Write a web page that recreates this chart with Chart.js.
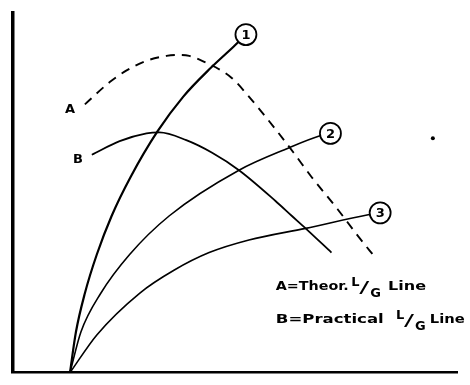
<!DOCTYPE html>
<html lang="en">
<head>
<meta charset="utf-8">
<script src="https://cdn.jsdelivr.net/npm/chart.js"></script>
<style>
  html, body { margin: 0; padding: 0; background: #fff; }
</style>
</head>
<body>
<canvas id="sketch" width="470" height="385"></canvas>
<script>
// values: x to the right, y upwards from the corner of the axes
const curve1X = [58, 64, 73, 85, 100, 119, 146, 172, 200, 223, 235];
const curve1Y = [0, 42, 82, 122, 162, 202, 249, 285, 315, 337, 349];
const curve2X = [58, 69, 89, 118, 158, 228, 278, 308, 320];
const curve2Y = [0, 42, 82, 122, 162, 209, 232, 244, 247];
const curve3X = [58, 85, 128, 163, 198, 238, 295, 358, 370];
const curve3Y = [0, 39, 82, 106, 124, 137, 149, 163, 165];
const lineAX = [73, 98, 115, 135, 155, 166, 178, 195, 205, 221, 238, 265, 283, 301, 327, 347, 365];
const lineAY = [277, 300, 312, 322, 327, 328, 327, 320, 315, 304, 285, 251, 227, 202, 169, 142, 119];
const lineBX = [80, 108, 135, 148, 175, 201, 228, 265, 281, 295, 321];
const lineBY = [225, 239, 247, 248, 240, 227, 209, 177, 162, 149, 124];

// numbered circles at the ends of curves 1-3
const circleNames = ['1', '2', '3'];
const circleX = [235, 320, 370];
const circleY = [349, 247, 165];

// letters beside the L/G lines
const curveNames = ['A', 'B'];
const curveNameX = [58, 66];
const curveNameY = [272, 220];

// stray dot on the right
const dotX = [423];
const dotY = [242];

// key text
const keyLead = ['A=Theor.', 'B=Practical'];
const keyTail = ['Line', 'Line'];
const keyX = [265, 265];
const keyY = [85, 51];
const keyLeadW = [73, 108];
const keyFracX = [341, 386];
const keyTailX = [378, 420];
const keyTailW = [38, 35];

const pts = (xs, ys) => xs.map((v, i) => ({ x: v, y: ys[i] }));

const curve = (xs, ys, width, dash) => ({
    data: pts(xs, ys),
    showLine: true,
    borderColor: '#000',
    borderWidth: width,
    borderDash: dash || [],
    pointRadius: 0,
    cubicInterpolationMode: 'monotone',
    fill: false
});

// the lettering on the sketch is wide, so stretch text to the width it spans
function stretchText(ctx, text, x, y, width) {
    const natural = ctx.measureText(text).width;
    ctx.save();
    ctx.translate(x, y);
    ctx.scale(width / natural, 1);
    ctx.fillText(text, 0, 0);
    ctx.restore();
}

const sketchLabels = {
    id: 'sketchLabels',
    afterDatasetsDraw(chart) {
        const { ctx } = chart;
        const sx = chart.scales.x, sy = chart.scales.y;
        ctx.save();
        ctx.fillStyle = '#000';

        ctx.textAlign = 'center';
        ctx.textBaseline = 'middle';
        ctx.font = 'bold 13px "DejaVu Sans"';
        circleNames.forEach((t, i) => {
            ctx.fillText(t, sx.getPixelForValue(circleX[i]), sy.getPixelForValue(circleY[i]) + 1);
        });
        curveNames.forEach((t, i) => {
            ctx.fillText(t, sx.getPixelForValue(curveNameX[i]), sy.getPixelForValue(curveNameY[i]));
        });

        ctx.textAlign = 'left';
        ctx.textBaseline = 'alphabetic';
        keyLead.forEach((t, i) => {
            const py = sy.getPixelForValue(keyY[i]);
            ctx.font = 'bold 13px "DejaVu Sans"';
            stretchText(ctx, t, sx.getPixelForValue(keyX[i]), py, keyLeadW[i]);

            // L/G written as a slanted fraction
            const px = sx.getPixelForValue(keyFracX[i]);
            ctx.fillText('L', px, py - 4);
            ctx.font = '16px "DejaVu Sans"';
            stretchText(ctx, '/', px + 8, py + 3, 10);
            ctx.font = 'bold 13px "DejaVu Sans"';
            ctx.fillText('G', px + 19, py + 7);

            stretchText(ctx, keyTail[i], sx.getPixelForValue(keyTailX[i]), py, keyTailW[i]);
        });
        ctx.restore();
    }
};

new Chart(document.getElementById('sketch'), {
    type: 'scatter',
    data: {
        datasets: [
            {
                // circles go first so they sit on top of the curve ends
                data: pts(circleX, circleY),
                pointRadius: 10.5,
                pointBackgroundColor: '#fff',
                pointBorderColor: '#000',
                pointBorderWidth: 1.8,
                showLine: false
            },
            {
                data: pts(dotX, dotY),
                pointRadius: 2,
                pointBackgroundColor: '#000',
                pointBorderWidth: 0,
                showLine: false
            },
            curve(curve1X, curve1Y, 2.2),
            curve(curve2X, curve2Y, 1.6),
            curve(curve3X, curve3Y, 1.6),
            curve(lineAX, lineAY, 1.9, [9, 7]),
            curve(lineBX, lineBY, 1.8)
        ]
    },
    options: {
        responsive: false,
        animation: false,
        events: [],
        layout: { padding: { left: 12, top: 10, right: 10, bottom: 3 } },
        scales: {
            x: {
                type: 'linear',
                min: 0,
                max: 448,
                grid: { display: false, drawTicks: false },
                ticks: { display: false },
                border: { display: true, color: '#000', width: 2.5 }
            },
            y: {
                type: 'linear',
                min: 0,
                max: 372,
                grid: { display: false, drawTicks: false },
                ticks: { display: false },
                border: { display: true, color: '#000', width: 3.5 }
            }
        },
        plugins: {
            legend: { display: false },
            tooltip: { enabled: false }
        }
    },
    plugins: [sketchLabels]
});
</script>
</body>
</html>
